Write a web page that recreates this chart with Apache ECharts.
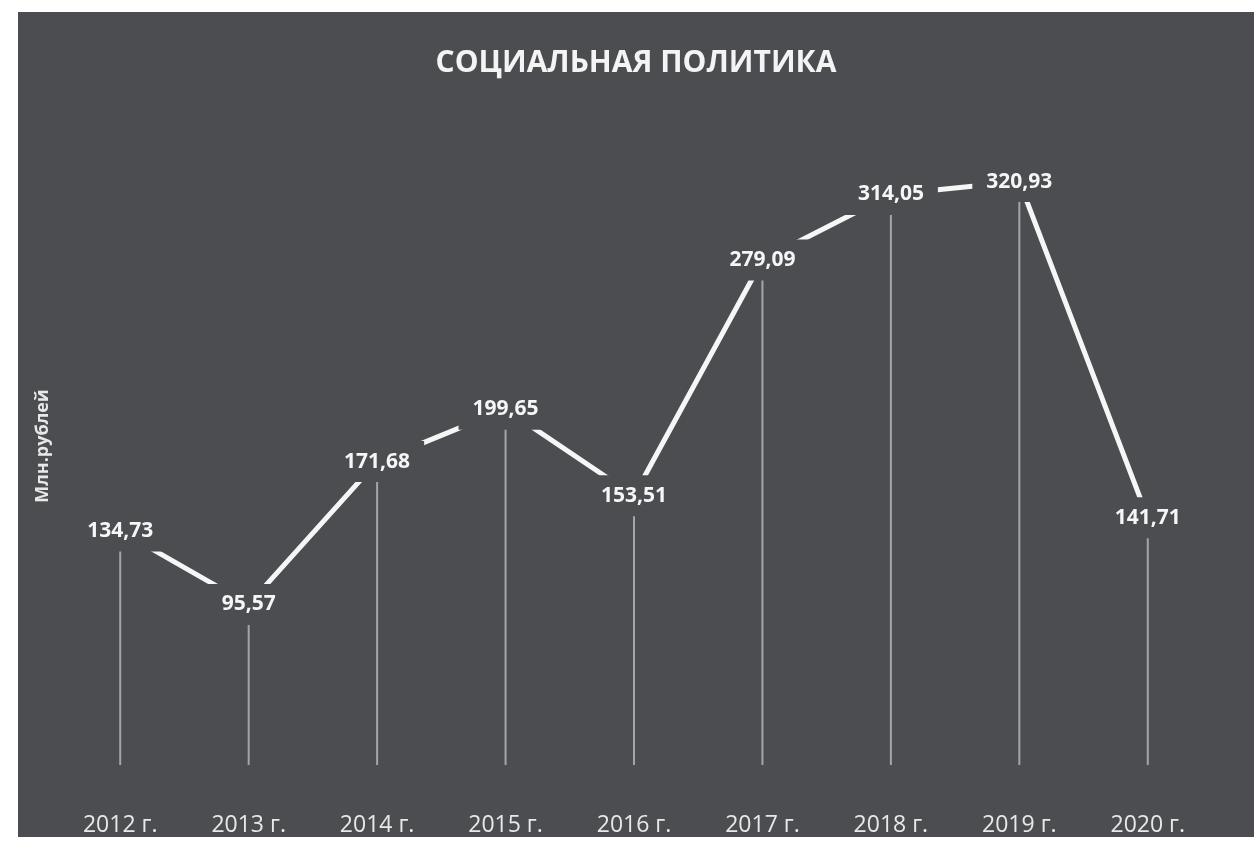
<!DOCTYPE html>
<html>
<head>
<meta charset="utf-8">
<script src="https://cdn.jsdelivr.net/npm/echarts@6/dist/echarts.min.js"></script>
<style>
  html, body { margin: 0; padding: 0; background: #fff; width: 1254px; height: 847px; overflow: hidden; }
  #chart { position: absolute; left: 18px; top: 12px; width: 1236px; height: 825px; background: #4b4d51; }
</style>
</head>
<body>
<div id="chart"></div>
<script>
  // годы и значения (млн. рублей)
  const years = ['2012 г.', '2013 г.', '2014 г.', '2015 г.', '2016 г.', '2017 г.', '2018 г.', '2019 г.', '2020 г.']
  const values = [134.73, 95.57, 171.68, 199.65, 153.51, 279.09, 314.05, 320.93, 141.71]

  const bg = '#4b4d51'
  const myChart = echarts.init(document.getElementById('chart'))
  const option = {
    backgroundColor: bg,
    animation: false,
    title: {
      text: 'СОЦИАЛЬНАЯ ПОЛИТИКА',
      left: 'center',
      top: 31,
      textStyle: {
        color: '#f4f4f4',
        fontFamily: 'Open Sans',
        fontWeight: 'bold',
        fontSize: 30
      }
    },
    grid: {
      left: 38,
      right: 42,
      top: 115,
      bottom: 67
    },
    xAxis: {
      type: 'category',
      data: years,
      axisLine: { show: false },
      axisTick: { show: false },
      axisLabel: {
        color: '#e8e8e8',
        fontFamily: 'Open Sans',
        fontSize: 23,
        margin: 49
      }
    },
    yAxis: {
      type: 'value',
      min: 10,
      max: 350,
      name: 'Млн.рублей',
      nameLocation: 'middle',
      nameGap: 4,
      nameTextStyle: {
        color: '#e8e8e8',
        fontFamily: 'Open Sans',
        fontWeight: 'bold',
        fontSize: 18
      },
      axisLine: { show: false },
      axisTick: { show: false },
      axisLabel: { show: false },
      splitLine: { show: false }
    },
    series: [
      {
        // вертикальные линии от точки вниз
        type: 'bar',
        data: values,
        barWidth: 2,
        clip: true,
        z: 1,
        itemStyle: { color: 'rgba(225, 225, 225, 0.6)' }
      },
      {
        type: 'line',
        data: values,
        z: 3,
        symbol: 'circle',
        symbolSize: 1,
        showSymbol: true,
        itemStyle: { color: 'rgba(0,0,0,0)' },
        lineStyle: { color: '#f6f6f6', width: 5 },
        label: {
          show: true,
          position: 'inside',
          formatter: p => p.value.toFixed(2).replace('.', ','),
          color: '#f6f6f6',
          fontFamily: 'Open Sans',
          fontWeight: 'bold',
          fontSize: 21,
          backgroundColor: bg,
          padding: [10, 14]
        }
      }
    ]
  }
  myChart.setOption(option)
</script>
</body>
</html>
